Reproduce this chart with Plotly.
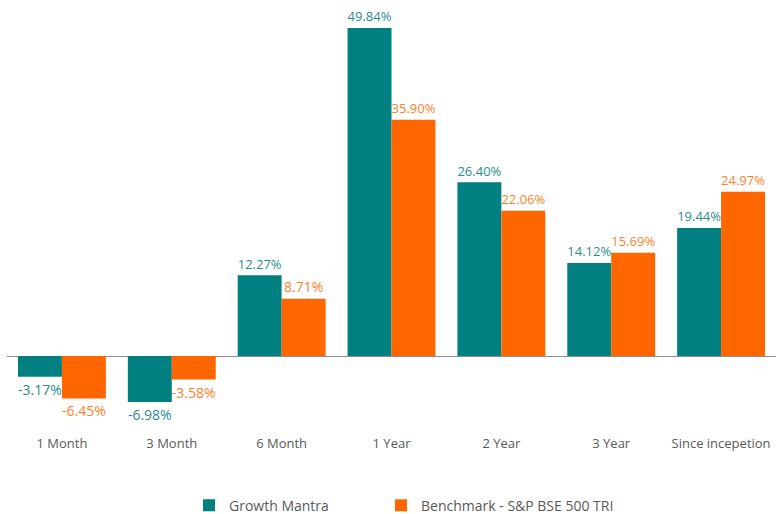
import plotly.graph_objects as go

categories = ["1 Month", "3 Month", "6 Month", "1 Year", "2 Year", "3 Year", "Since incepetion"]
growth_mantra = [-3.17, -6.98, 12.27, 49.84, 26.40, 14.12, 19.44]
benchmark = [-6.45, -3.58, 8.71, 35.90, 22.06, 15.69, 24.97]
series_names = ["Growth Mantra", "Benchmark - S&P BSE 500 TRI"]

FONT = "Open Sans"
L_MARGIN, R_MARGIN, WIDTH = 7, 6, 782
PLOT_W = WIDTH - L_MARGIN - R_MARGIN


def px_to_paper(px):
    return (px - L_MARGIN) / PLOT_W


fig = go.Figure()
fig.add_trace(go.Bar(
    x=categories, y=growth_mantra, name=series_names[0], legend="legend",
    marker=dict(color="#008080", line=dict(width=0)),
    text=[f"{v:.2f}%" for v in growth_mantra], textposition="outside",
    textfont=dict(color="#2a8c8c", size=14, family=FONT), cliponaxis=False,
))
fig.add_trace(go.Bar(
    x=categories, y=benchmark, name=series_names[1], legend="legend2",
    marker=dict(color="#FF6600", line=dict(width=0)),
    text=[f"{v:.2f}%" for v in benchmark], textposition="outside",
    textfont=dict(color="#FF7F2A", size=14, family=FONT), cliponaxis=False,
))

leg_common = dict(orientation="h", xanchor="left", y=-0.14, yanchor="top",
                  font=dict(size=14, color="#595959"), itemwidth=30,
                  bgcolor="rgba(0,0,0,0)")
fig.update_layout(
    width=WIDTH, height=514,
    margin=dict(l=L_MARGIN, r=R_MARGIN, t=20, b=82, autoexpand=False),
    paper_bgcolor="white", plot_bgcolor="white",
    barmode="group", bargap=0.2, bargroupgap=0,
    font=dict(family=FONT, color="#595959", size=13),
    xaxis=dict(range=[-0.5, 6.5], autorange=False, automargin=False, showgrid=False,
               showline=False, ticks="", ticklabelstandoff=2,
               tickfont=dict(size=13, color="#595959")),
    yaxis=dict(range=[-11.55, 51.06], autorange=False, automargin=False, showgrid=False,
               showticklabels=False, zeroline=True, zerolinecolor="#8c8c8c", zerolinewidth=1),
    legend=dict(x=px_to_paper(189), **leg_common),
    legend2=dict(x=px_to_paper(381), **leg_common),
    showlegend=True,
)
fig.write_html("out.html", config={"displayModeBar": False},
               post_script="document.body.style.margin='0';document.body.style.padding='0';")
